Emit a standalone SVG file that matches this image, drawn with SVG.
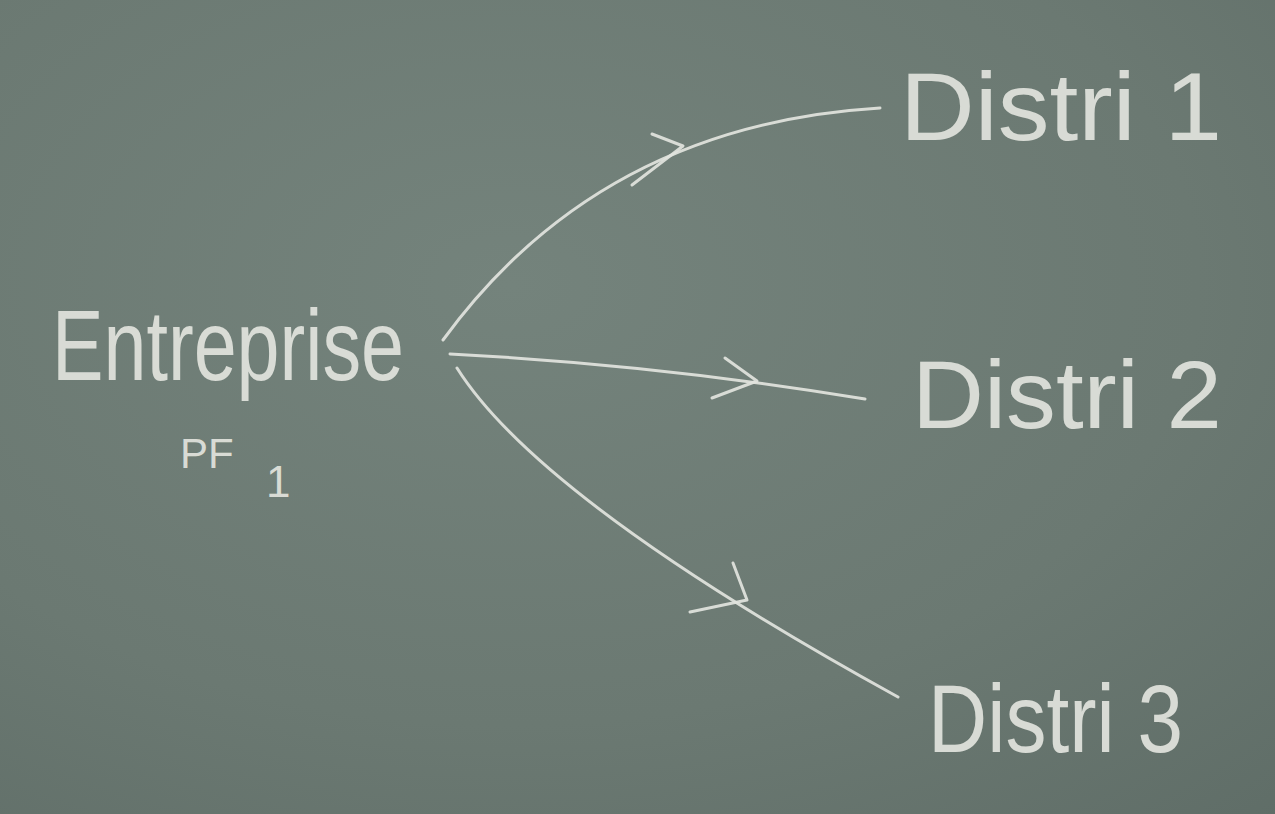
<svg xmlns="http://www.w3.org/2000/svg" width="1275" height="814" viewBox="0 0 1275 814">
<defs>
<radialGradient id="bg" cx="0.4" cy="0.35" r="0.9">
<stop offset="0" stop-color="#74837c"/>
<stop offset="0.6" stop-color="#6b7972"/>
<stop offset="1" stop-color="#5f6d67"/>
</radialGradient>
</defs>
<style>
.chalk{fill:none;stroke:#e2e4de;stroke-width:3;stroke-linecap:round;stroke-linejoin:round;opacity:0.92}
.lbl{font-family:"Liberation Sans","DejaVu Sans",sans-serif;fill:#e2e4de;opacity:0.92}
</style>
<rect width="1275" height="814" fill="url(#bg)"/>
<g id="entreprise">
<text class="lbl" x="52" y="380" font-size="100" textLength="352" lengthAdjust="spacingAndGlyphs">Entreprise</text>
<text class="lbl" x="180" y="468" font-size="42">PF</text>
<text class="lbl" x="266" y="497" font-size="44">1</text>
</g>
<g id="distri1">
<text class="lbl" x="900" y="140" font-size="96" textLength="322" lengthAdjust="spacingAndGlyphs">Distri 1</text>
</g>
<g id="distri2">
<text class="lbl" x="912" y="428" font-size="96" textLength="310" lengthAdjust="spacingAndGlyphs">Distri 2</text>
</g>
<g id="distri3">
<text class="lbl" x="928" y="752" font-size="96" textLength="255" lengthAdjust="spacingAndGlyphs">Distri 3</text>
</g>
<g id="connectors">
<path class="chalk" d="M443,340 Q600,125 880,108"/>
<path class="chalk" d="M652,134 L683,146 L632,185"/>
<path class="chalk" d="M450,354 Q660,365 865,399"/>
<path class="chalk" d="M725,358 L757,381 L712,398"/>
<path class="chalk" d="M457,368 Q540,500 898,697"/>
<path class="chalk" d="M733,563 L747,600 L690,612"/>
</g>
</svg>
